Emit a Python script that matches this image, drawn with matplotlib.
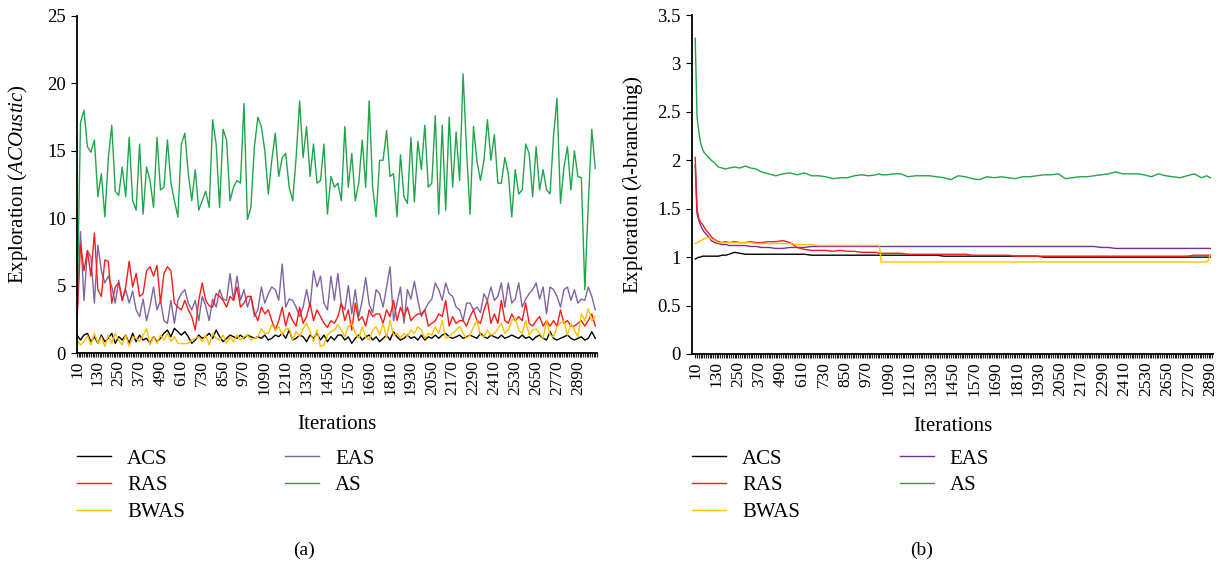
import matplotlib
matplotlib.use('Agg')
import matplotlib.pyplot as plt
from matplotlib.ticker import FixedLocator

# ---------------- data: panel (a) ----------------
iters_a = list(range(10, 3000, 20))  # 10, 30, ..., 2990
tick_labels_a = list(range(10, 2891, 120))

acs_a = [1.33, 0.96, 1.33, 1.46, 0.84, 1.21, 0.72, 1.33, 0.84, 1.09,
         1.46, 0.72, 1.21, 0.96, 1.33, 0.72, 1.46, 0.84, 1.33, 0.96,
         1.09, 0.72, 1.21, 0.84, 1.09, 1.46, 1.70, 1.21, 1.83, 1.58,
         1.33, 1.58, 1.21, 0.72, 0.96, 1.33, 1.09, 1.21, 1.46, 1.09,
         1.70, 1.21, 0.84, 1.09, 1.33, 1.21, 1.09, 1.33, 1.09, 1.33,
         1.21, 1.09, 1.21, 1.09, 1.33, 0.96, 1.09, 1.33, 1.21, 1.46,
         1.09, 1.70, 0.96, 1.09, 1.33, 1.21, 0.84, 1.33, 1.09, 1.46,
         0.96, 1.33, 0.84, 1.21, 0.96, 1.33, 1.33, 0.96, 1.20, 0.72,
         1.09, 1.33, 0.96, 1.20, 1.33, 0.96, 1.20, 0.84, 1.09, 1.33,
         0.96, 1.58, 1.20, 0.96, 1.09, 1.33, 1.09, 1.20, 0.96, 1.33,
         0.96, 1.20, 1.09, 1.33, 1.09, 1.33, 1.46, 1.20, 1.09, 1.20,
         1.33, 1.09, 1.20, 1.33, 1.20, 1.09, 1.46, 1.20, 1.09, 1.33,
         1.20, 1.09, 1.33, 1.09, 1.20, 1.33, 1.20, 1.09, 1.33, 1.09,
         1.20, 0.96, 1.20, 1.33, 1.09, 0.96, 1.58, 1.09, 0.96, 1.09,
         1.20, 1.33, 1.09, 0.96, 1.09, 1.20, 0.96, 1.09, 1.58, 1.09]

ras_a = [2.3, 8.1, 6.1, 7.6, 5.7, 8.9, 4.7, 4.2, 6.9, 6.8,
         3.7, 4.9, 5.2, 3.9, 4.9, 6.8, 4.9, 5.9, 4.2, 4.4,
         6.1, 6.4, 5.7, 6.5, 3.7, 5.9, 6.4, 6.1, 3.7, 3.4,
         3.2, 3.9, 3.2, 2.7, 1.7, 3.9, 5.2, 3.9, 3.5, 3.4,
         4.4, 4.2, 3.9, 3.4, 4.2, 3.9, 4.9, 3.4, 3.7, 4.2,
         4.2, 3.0, 2.4, 3.4, 2.9, 3.2, 2.4, 1.7, 2.4, 3.4,
         2.0, 3.0, 2.4, 2.0, 3.4, 2.2, 2.7, 3.7, 2.4, 3.2,
         2.7, 2.2, 1.9, 2.4, 2.2, 2.7, 3.7, 2.4, 3.2, 1.7,
         3.7, 2.4, 2.7, 2.0, 3.2, 2.7, 2.9, 2.9, 2.2, 3.2,
         2.7, 3.9, 2.4, 3.4, 2.7, 3.4, 2.4, 2.7, 2.9, 2.9,
         3.2, 2.0, 2.2, 2.4, 2.9, 2.7, 3.9, 2.0, 2.7, 2.2,
         2.4, 2.4, 2.0, 2.7, 3.2, 2.4, 2.2, 3.2, 3.9, 2.2,
         2.9, 2.2, 3.9, 2.4, 2.2, 2.9, 2.4, 2.7, 2.4, 3.7,
         2.2, 2.0, 2.4, 2.7, 2.0, 2.4, 2.0, 2.4, 2.0, 3.2,
         2.2, 2.4, 2.0, 2.0, 2.2, 2.4, 2.0, 2.4, 2.9, 2.0]

bwas_a = [0.96, 0.60, 0.84, 1.30, 0.60, 1.46, 0.72, 1.20, 0.47, 1.33,
          0.72, 1.46, 0.96, 0.60, 1.33, 0.50, 1.20, 1.10, 0.84, 1.33,
          1.80, 0.60, 1.20, 0.72, 1.33, 0.96, 1.46, 0.84, 1.20, 0.72,
          0.70, 0.70, 0.72, 0.96, 1.10, 1.20, 0.84, 1.33, 0.60, 1.46,
          1.10, 0.96, 1.33, 0.72, 1.20, 0.84, 1.33, 0.96, 1.20, 1.33,
          0.96, 1.10, 1.20, 1.80, 1.46, 1.46, 2.10, 1.70, 1.95, 1.33,
          1.80, 1.80, 0.96, 1.60, 1.20, 1.80, 2.20, 1.60, 0.84, 1.70,
          0.47, 0.60, 1.33, 1.60, 1.70, 2.10, 1.70, 1.20, 1.95, 2.20,
          1.46, 1.10, 1.95, 1.20, 0.96, 1.70, 1.95, 1.33, 2.20, 1.10,
          2.40, 1.33, 1.46, 1.10, 1.46, 1.20, 1.70, 1.46, 1.95, 1.70,
          1.10, 1.46, 1.33, 1.95, 1.46, 2.40, 1.10, 1.20, 1.46, 1.70,
          1.95, 1.46, 1.10, 1.33, 1.95, 2.40, 1.33, 1.20, 1.70, 1.33,
          1.46, 1.80, 2.20, 1.46, 1.70, 2.40, 2.60, 1.70, 1.46, 2.40,
          1.33, 1.70, 1.80, 1.46, 1.10, 2.40, 1.33, 1.20, 1.95, 2.20,
          2.40, 1.33, 2.20, 1.70, 1.20, 2.90, 2.40, 3.30, 2.40, 2.70]

eas_a = [2.7, 9.0, 3.9, 7.6, 7.1, 3.7, 8.0, 6.1, 5.2, 5.7,
         4.9, 3.7, 5.4, 3.9, 4.7, 3.7, 4.6, 3.2, 2.7, 4.0,
         2.4, 3.5, 4.9, 3.2, 3.9, 2.4, 2.2, 3.9, 2.2, 3.9,
         4.4, 4.7, 3.7, 3.2, 3.9, 2.4, 4.2, 3.5, 2.4, 4.0,
         3.4, 4.7, 4.0, 3.9, 5.9, 3.9, 5.7, 3.9, 4.7, 3.4,
         4.2, 2.7, 3.2, 4.9, 3.7, 4.4, 4.9, 4.7, 3.9, 6.6,
         3.4, 4.0, 3.9, 3.4, 2.7, 3.4, 4.7, 3.4, 6.1, 4.9,
         5.7, 3.7, 3.2, 5.7, 3.9, 5.9, 3.6, 3.2, 5.0, 2.9,
         4.7, 2.7, 3.9, 5.6, 3.6, 3.0, 4.7, 4.4, 3.4, 4.9,
         6.4, 2.4, 3.7, 4.9, 2.2, 4.7, 4.0, 5.3, 3.9, 2.7,
         3.2, 3.7, 4.0, 5.2, 4.7, 3.9, 5.2, 4.4, 4.2, 3.4,
         3.2, 2.4, 3.7, 3.7, 3.2, 3.4, 3.0, 4.4, 3.9, 4.9,
         3.9, 4.2, 5.2, 3.4, 5.2, 3.7, 4.0, 5.2, 3.4, 4.0,
         4.4, 4.7, 5.2, 4.0, 4.9, 2.9, 4.9, 4.7, 4.2, 3.4,
         4.7, 4.9, 3.9, 4.7, 3.7, 4.0, 3.9, 4.9, 4.2, 3.2]

as_a = [2.5, 17.1, 18.0, 15.3, 14.9, 15.8, 11.6, 13.3, 10.1, 14.4,
        16.9, 12.0, 11.7, 13.8, 11.6, 16.0, 11.3, 10.6, 15.5, 10.3,
        13.8, 12.8, 10.8, 16.0, 12.1, 12.3, 15.8, 12.6, 11.3, 10.1,
        15.5, 16.3, 13.3, 11.3, 13.6, 10.6, 11.3, 12.0, 10.8, 17.3,
        15.5, 10.8, 16.6, 15.8, 11.3, 12.3, 12.8, 12.6, 18.5, 9.9,
        10.8, 15.3, 17.5, 16.8, 15.0, 11.8, 14.3, 16.3, 13.1, 14.5,
        14.8, 12.3, 11.3, 14.5, 18.7, 14.5, 16.8, 13.1, 15.5, 12.6,
        12.8, 15.5, 10.3, 13.1, 12.3, 12.6, 11.3, 16.8, 12.3, 14.8,
        11.3, 12.6, 15.8, 12.3, 18.7, 12.3, 10.1, 14.3, 14.3, 16.5,
        13.1, 13.3, 10.1, 14.7, 11.6, 11.1, 16.0, 11.2, 15.7, 13.6,
        16.9, 12.3, 12.6, 17.6, 10.3, 16.9, 10.6, 17.5, 12.3, 16.4,
        12.8, 20.7, 15.0, 10.3, 16.8, 14.2, 12.8, 14.3, 17.3, 14.3,
        16.2, 12.6, 12.6, 14.5, 13.3, 10.1, 13.6, 11.8, 12.1, 15.5,
        14.8, 11.6, 15.3, 12.1, 13.6, 12.1, 11.8, 16.1, 18.9, 11.1,
        13.8, 15.3, 12.1, 15.0, 13.1, 13.0, 4.7, 11.1, 16.6, 13.7]

# ---------------- data: panel (b) ----------------
iters_b = [10, 20, 30, 40, 50, 60, 70, 80, 100, 120,
           140, 160, 180, 200, 230, 260, 290, 320, 350, 380,
           420, 460, 500, 540, 580, 620, 660, 700, 740, 780,
           820, 860, 900, 940, 980, 1020, 1040, 1050, 1080, 1120,
           1160, 1200, 1240, 1280, 1320, 1360, 1400, 1440, 1480, 1520,
           1560, 1600, 1640, 1680, 1720, 1760, 1800, 1840, 1880, 1920,
           1960, 2000, 2040, 2080, 2120, 2160, 2200, 2240, 2280, 2320,
           2360, 2400, 2440, 2480, 2520, 2560, 2600, 2640, 2680, 2720,
           2760, 2800, 2840, 2870, 2880, 2890]
tick_labels_b = list(range(10, 2891, 120))

acs_b = [0.98, 0.99, 1.00, 1.00, 1.01, 1.01, 1.01, 1.01, 1.01, 1.01,
         1.01, 1.02, 1.02, 1.03, 1.05, 1.04, 1.03, 1.03, 1.03, 1.03,
         1.03, 1.03, 1.03, 1.03, 1.03, 1.03, 1.02, 1.02, 1.02, 1.02,
         1.02, 1.02, 1.02, 1.02, 1.02, 1.02, 1.02, 1.02, 1.02, 1.02,
         1.02, 1.02, 1.02, 1.02, 1.02, 1.02, 1.01, 1.01, 1.01, 1.01,
         1.01, 1.01, 1.01, 1.01, 1.01, 1.01, 1.01, 1.01, 1.01, 1.01,
         1.00, 1.00, 1.00, 1.00, 1.00, 1.00, 1.00, 1.00, 1.00, 1.00,
         1.00, 1.00, 1.00, 1.00, 1.00, 1.00, 1.00, 1.00, 1.00, 1.00,
         1.00, 1.00, 1.00, 1.00, 1.00, 1.00]

ras_b = [2.03, 1.50, 1.40, 1.36, 1.34, 1.31, 1.28, 1.26, 1.21, 1.18,
         1.16, 1.15, 1.16, 1.15, 1.16, 1.15, 1.15, 1.16, 1.15, 1.15,
         1.16, 1.16, 1.17, 1.15, 1.10, 1.08, 1.07, 1.07, 1.07, 1.06,
         1.07, 1.06, 1.06, 1.05, 1.05, 1.05, 1.04, 1.04, 1.04, 1.04,
         1.04, 1.03, 1.03, 1.03, 1.03, 1.03, 1.03, 1.03, 1.03, 1.03,
         1.02, 1.02, 1.02, 1.02, 1.02, 1.02, 1.01, 1.01, 1.01, 1.01,
         1.01, 1.01, 1.01, 1.01, 1.01, 1.01, 1.01, 1.01, 1.01, 1.01,
         1.01, 1.01, 1.01, 1.01, 1.01, 1.01, 1.01, 1.01, 1.01, 1.01,
         1.01, 1.02, 1.02, 1.02, 1.02, 1.02]

bwas_b = [1.14, 1.15, 1.16, 1.17, 1.18, 1.19, 1.20, 1.20, 1.19, 1.17,
          1.15, 1.15, 1.15, 1.15, 1.15, 1.15, 1.15, 1.15, 1.14, 1.14,
          1.14, 1.14, 1.14, 1.14, 1.13, 1.13, 1.13, 1.12, 1.12, 1.12,
          1.12, 1.12, 1.12, 1.12, 1.12, 1.12, 1.12, 0.95, 0.95, 0.95,
          0.95, 0.95, 0.95, 0.95, 0.95, 0.95, 0.95, 0.95, 0.95, 0.95,
          0.95, 0.95, 0.95, 0.95, 0.95, 0.95, 0.95, 0.95, 0.95, 0.95,
          0.95, 0.95, 0.95, 0.95, 0.95, 0.95, 0.95, 0.95, 0.95, 0.95,
          0.95, 0.95, 0.95, 0.95, 0.95, 0.95, 0.95, 0.95, 0.95, 0.95,
          0.95, 0.95, 0.95, 0.95, 0.97, 1.03]

eas_b = [1.95, 1.45, 1.38, 1.33, 1.29, 1.26, 1.24, 1.22, 1.17, 1.15,
         1.14, 1.13, 1.13, 1.12, 1.12, 1.12, 1.12, 1.11, 1.11, 1.10,
         1.10, 1.09, 1.09, 1.10, 1.10, 1.10, 1.11, 1.11, 1.11, 1.11,
         1.11, 1.11, 1.11, 1.11, 1.11, 1.11, 1.11, 1.11, 1.11, 1.11,
         1.11, 1.11, 1.11, 1.11, 1.11, 1.11, 1.11, 1.11, 1.11, 1.11,
         1.11, 1.11, 1.11, 1.11, 1.11, 1.11, 1.11, 1.11, 1.11, 1.11,
         1.11, 1.11, 1.11, 1.11, 1.11, 1.11, 1.11, 1.11, 1.10, 1.10,
         1.09, 1.09, 1.09, 1.09, 1.09, 1.09, 1.09, 1.09, 1.09, 1.09,
         1.09, 1.09, 1.09, 1.09, 1.09, 1.09]

as_b = [3.26, 2.45, 2.30, 2.18, 2.12, 2.08, 2.06, 2.04, 2.00, 1.97,
        1.93, 1.92, 1.91, 1.92, 1.93, 1.92, 1.94, 1.92, 1.91, 1.88,
        1.86, 1.84, 1.86, 1.87, 1.85, 1.87, 1.84, 1.84, 1.83, 1.81,
        1.82, 1.82, 1.84, 1.85, 1.84, 1.85, 1.86, 1.85, 1.85, 1.86,
        1.86, 1.83, 1.84, 1.84, 1.84, 1.83, 1.82, 1.80, 1.84, 1.83,
        1.81, 1.80, 1.83, 1.82, 1.83, 1.82, 1.81, 1.83, 1.83, 1.84,
        1.85, 1.85, 1.86, 1.81, 1.82, 1.83, 1.83, 1.84, 1.85, 1.86,
        1.88, 1.86, 1.86, 1.86, 1.85, 1.83, 1.86, 1.84, 1.83, 1.82,
        1.84, 1.86, 1.82, 1.84, 1.83, 1.82]

names = ['ACS', 'RAS', 'BWAS', 'EAS', 'AS']

# ---------------- style ----------------
plt.rcParams['font.family'] = ['Liberation Serif', 'DejaVu Serif']
plt.rcParams['mathtext.fontset'] = 'custom'
plt.rcParams['mathtext.rm'] = 'Liberation Serif'
plt.rcParams['mathtext.it'] = 'Liberation Serif:italic'

W, H = 1218, 564
fig = plt.figure(figsize=(W / 100, H / 100), dpi=100)
axA = fig.add_axes([77 / W, 1 - 353 / H, 520 / W, 337 / H])
axB = fig.add_axes([692 / W, 1 - 354 / H, 521 / W, 339 / H])

colA = {'ACS': '#000000', 'RAS': '#ff1a1a', 'BWAS': '#ffc000',
        'EAS': '#8064a2', 'AS': '#1fa64a'}
colB = {'ACS': '#000000', 'RAS': '#ff1a1a', 'BWAS': '#ffc000',
        'EAS': '#7030a0', 'AS': '#1fa64a'}

def draw(ax, x, data, cols, lw):
    handles = {}
    for name in ['ACS', 'EAS', 'RAS', 'AS', 'BWAS']:
        h, = ax.plot(x, data[name], color=cols[name], lw=lw, label=name)
        handles[name] = h
    return handles

hA = draw(axA, iters_a, {'ACS': acs_a, 'RAS': ras_a, 'BWAS': bwas_a,
                         'EAS': eas_a, 'AS': as_a}, colA, 1.0)
hB = draw(axB, iters_b, {'ACS': acs_b, 'RAS': ras_b, 'BWAS': bwas_b,
                         'EAS': eas_b, 'AS': as_b}, colB, 1.0)

def style(ax, xlim, ylim, yticks, ylabel, ticklabels, xminor_end):
    ax.set_xlim(*xlim)
    ax.set_ylim(*ylim)
    for s in ['top', 'right']:
        ax.spines[s].set_visible(False)
    for s in ['left', 'bottom']:
        ax.spines[s].set_linewidth(1.3)
    ax.set_yticks(yticks)
    ax.set_yticklabels([('%g' % v) for v in yticks], fontsize=13.5)
    ax.xaxis.set_major_locator(FixedLocator(ticklabels))
    ax.set_xticklabels([str(v) for v in ticklabels], rotation=90, fontsize=12.5)
    ax.xaxis.set_minor_locator(FixedLocator(list(range(10, xminor_end + 1, 10))))
    ax.tick_params(axis='x', which='both', direction='out', length=3.2,
                   width=0.85, color='#222222', pad=2)
    ax.tick_params(axis='y', direction='out', length=4, width=0.8, pad=4)
    ax.set_ylabel(ylabel, fontsize=15)
    ax.set_xlabel('Iterations', fontsize=15)
    ax.xaxis.set_label_coords(0.5, -0.185)

style(axA, (10, 3000), (0, 25), [0, 5, 10, 15, 20, 25],
      'Exploration ($\\mathit{ACOustic}$)', tick_labels_a, 3000)
axA.yaxis.set_label_coords(-0.09, 0.5)
style(axB, (-8, 2905), (0, 3.5), [0, 0.5, 1, 1.5, 2, 2.5, 3, 3.5],
      'Exploration ($\\lambda$-branching)', tick_labels_b, 2900)
axB.yaxis.set_label_coords(-0.09, 0.5)

def legend(ax, handles, x0):
    ax.legend([handles[n] for n in names], names, ncol=2, loc='upper left',
              bbox_to_anchor=(x0 / W, 1 - 449 / H), bbox_transform=fig.transFigure,
              frameon=False, fontsize=15, handlelength=1.65, handletextpad=0.75,
              columnspacing=4.8, labelspacing=0.35, borderpad=0, borderaxespad=0)

legend(axA, hA, 77)
legend(axB, hB, 692)

fig.text(304 / W, 1 - 550 / H, '(a)', ha='center', va='center', fontsize=14)
fig.text(922 / W, 1 - 550 / H, '(b)', ha='center', va='center', fontsize=14)

fig.savefig('out.png', dpi=100)
